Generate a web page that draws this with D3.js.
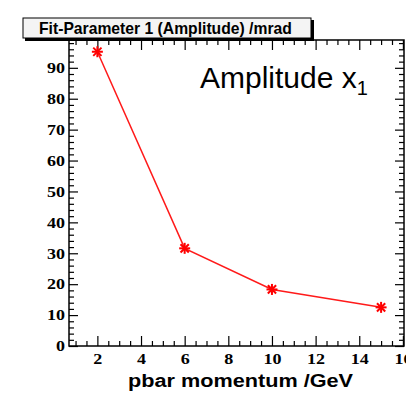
<!DOCTYPE html>
<html>
<head>
<meta charset="utf-8">
<script src="https://cdn.jsdelivr.net/npm/d3@7"></script>
<style>
  body { margin: 0; background: #fff; }
  svg { display: block; }
</style>
</head>
<body>
<svg id="svg" width="406" height="394"></svg>
<script>
// fit results: amplitude vs beam momentum
const momentum = [2, 6, 10, 15];
const amplitude = [95.2, 31.6, 18.3, 12.5];
const xTicks = [2, 4, 6, 8, 10, 12, 14, 16];
const yTicks = [0, 10, 20, 30, 40, 50, 60, 70, 80, 90];

const frameL = 69, frameR = 404, frameT = 40, frameB = 346;

const svg = d3.select("#svg");

const x = d3.scaleLinear().domain([0.7, 16.05]).range([frameL, frameR]);
const y = d3.scaleLinear().domain([0, 99]).range([frameB, frameT]);

const xMinor = d3.range(1, 16.05, 0.5).filter(v => v % 2 !== 0);
const yMinor = d3.range(2, 99, 2).filter(v => v % 10 !== 0);

// frame
svg.append("rect")
   .attr("x", frameL).attr("y", frameT)
   .attr("width", frameR - frameL).attr("height", frameB - frameT)
   .attr("fill", "none").attr("stroke", "#000").attr("stroke-width", 1.5);

// ticks point inward on all four sides
function tickAxis(gen, tx, ty, values, len, labels) {
    const g = svg.append("g")
        .attr("transform", `translate(${tx},${ty})`)
        .call(gen.tickValues(values).tickSizeInner(-len).tickSizeOuter(0)
                 .tickPadding(4).tickFormat(d3.format("d")));
    g.select(".domain").remove();
    if (!labels) g.selectAll(".tick text").remove();
    g.selectAll(".tick line").attr("stroke", "#000").attr("stroke-width", 1.2);
    return g;
}

const xl = tickAxis(d3.axisBottom(x), 0, frameB, xTicks, 10, true);
tickAxis(d3.axisBottom(x), 0, frameB, xMinor, 5, false);
tickAxis(d3.axisTop(x), 0, frameT, xTicks, 10, false);
tickAxis(d3.axisTop(x), 0, frameT, xMinor, 5, false);

const yl = tickAxis(d3.axisLeft(y), frameL, 0, yTicks, 9, true);
tickAxis(d3.axisLeft(y), frameL, 0, yMinor, 5, false);
tickAxis(d3.axisRight(y), frameR, 0, yTicks, 9, false);
tickAxis(d3.axisRight(y), frameR, 0, yMinor, 5, false);

// wide bold serif digits
[xl, yl].forEach(g => g.selectAll("text")
  .attr("font-family", "'Liberation Serif', 'Times New Roman', serif")
  .attr("font-weight", "bold").attr("font-size", 15).attr("fill", "#000")
  .attr("lengthAdjust", "spacingAndGlyphs")
  .attr("textLength", d => String(d).length * 9));
xl.selectAll("text").attr("dy", "0.95em");

// data line and star markers
const pts = momentum.map((m, i) => [x(m), y(amplitude[i])]);
svg.append("path")
   .attr("d", d3.line()(pts))
   .attr("fill", "none").attr("stroke", "#ff1a1a").attr("stroke-width", 1.5);

const star = svg.selectAll(".star").data(pts).enter().append("g")
   .attr("class", "star")
   .attr("transform", d => `translate(${d[0]},${d[1]})`);
const r = 5.5;
[[-r, 0, r, 0], [0, -r, 0, r], [-r * 0.75, -r * 0.75, r * 0.75, r * 0.75], [-r * 0.75, r * 0.75, r * 0.75, -r * 0.75]]
  .forEach(s => {
    star.append("line")
        .attr("x1", s[0]).attr("y1", s[1]).attr("x2", s[2]).attr("y2", s[3])
        .attr("stroke", "#ff0000").attr("stroke-width", 2);
  });

// title box with shadow
svg.append("rect").attr("x", 25).attr("y", 20).attr("width", 289).attr("height", 21).attr("fill", "#000");
svg.append("rect").attr("x", 23).attr("y", 18).attr("width", 288).attr("height", 20)
   .attr("fill", "#f4f4f4").attr("stroke", "#000").attr("stroke-width", 1);

function fitText(t, w) {
    let fs = +t.attr("font-size");
    const len = t.node().getComputedTextLength();
    t.attr("font-size", fs * w / len);
}

const title = svg.append("text")
   .attr("x", 39).attr("y", 33.5)
   .attr("font-family", "'Liberation Sans', Arial, sans-serif")
   .attr("font-weight", "bold").attr("font-size", 15)
   .text("Fit-Parameter 1 (Amplitude) /mrad");
fitText(title, 253);

svg.append("text")
   .attr("x", 128).attr("y", 387)
   .attr("font-family", "'Liberation Sans', Arial, sans-serif")
   .attr("font-weight", "bold").attr("font-size", 17.5)
   .attr("lengthAdjust", "spacingAndGlyphs").attr("textLength", 225)
   .text("pbar momentum /GeV");

const lab = svg.append("text")
   .attr("x", 200).attr("y", 87.7)
   .attr("font-family", "'Liberation Sans', Arial, sans-serif")
   .attr("font-size", 30);
lab.append("tspan").text("Amplitude x");
lab.append("tspan").attr("font-size", 20).attr("dy", 7).text("1");
</script>
</body>
</html>
